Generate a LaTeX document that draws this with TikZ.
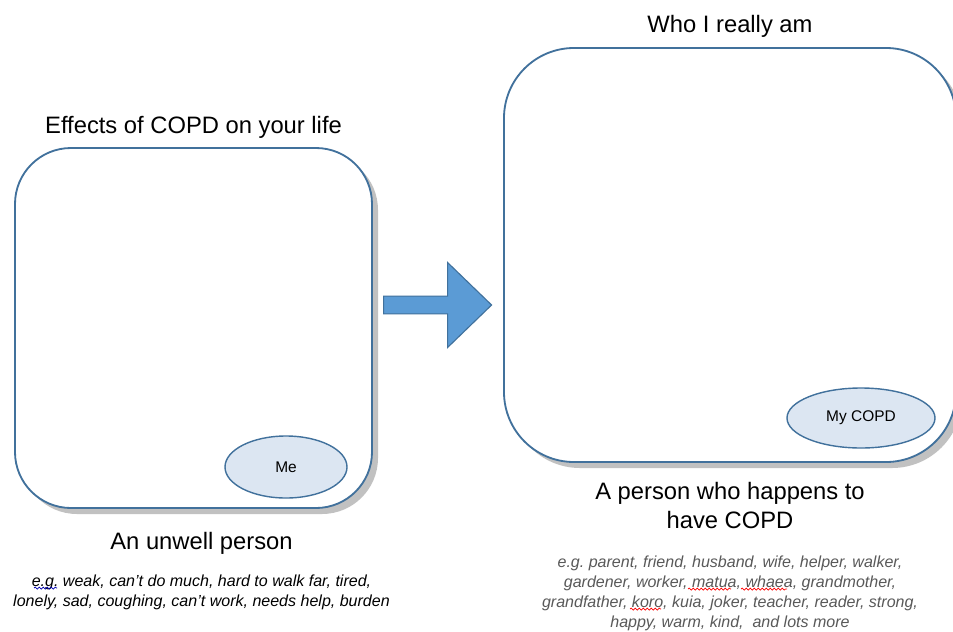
\documentclass[tikz,border=0pt]{standalone}
\usepackage{fontspec}
\setmainfont{Liberation Sans}
\usetikzlibrary{positioning,shapes.geometric,shapes.arrows,shadows,decorations.pathmorphing}

\definecolor{boxline}{HTML}{41719C}
\definecolor{ovalfill}{HTML}{DCE6F2}
\definecolor{arrowfill}{HTML}{5B9BD5}
\definecolor{listgray}{HTML}{595959}

\begin{document}
\begin{tikzpicture}[
    x=0.25mm, y=-0.25mm,
    lifebox/.style={rectangle, draw=boxline, line width=1.3pt, fill=white, drop shadow={shadow xshift=1.5mm, shadow yshift=-1.5mm, opacity=0.4, fill=black!60}},
    selfoval/.style={ellipse, draw=boxline, line width=1pt, fill=ovalfill, inner sep=0pt, font=\fontsize{11}{13}\selectfont},
    heading/.style={font=\fontsize{16.9}{21}\selectfont, align=center},
    examples/.style={align=center, font=\fontsize{11.4}{14.2}\selectfont\itshape},
    bigarrow/.style={single arrow, draw=boxline, line width=0.8pt, fill=arrowfill, minimum height=27mm, minimum width=21.25mm, single arrow head extend=5mm, single arrow tip angle=88},
    squiggle/.style={decorate, decoration={snake, amplitude=0.25mm, segment length=1mm}, line width=0.5pt}
]
\fill[white] (0,0) rectangle (953,631);
\clip (0,0) rectangle (953,631);

% the two views of the person
\node[lifebox, rounded corners=14mm, minimum width=89.25mm, minimum height=90mm] (effects) at (193.5,328) {};
\node[lifebox, rounded corners=17.5mm, minimum width=113mm, minimum height=103.5mm] (really) at (730,255) {};

\node[selfoval, minimum width=30.5mm, minimum height=15.5mm] (me) at (286,467) {Me};
\node[selfoval, minimum width=37mm, minimum height=15mm] (mycopd) at (861,418) {My COPD};

\node[bigarrow] (shift) at (433,305) {};

% titles
\node[heading, above=0.8mm of effects] (effectstitle) {Effects of COPD on your life};
\node[heading, above=1.2mm of really] (reallytitle) {Who I really am};
\node[heading, below=4.5mm of effects, xshift=2mm] (unwell) {An unwell person};
\node[heading, below=3.5mm of really] (happens) {A person who happens to\\have COPD};

% examples
\node[examples, below=2.8mm of unwell] (unwellex) {e.g.\ weak, can’t do much, hard to walk far, tired,\\lonely, sad, coughing, can’t work, needs help, burden};
\node[examples, text=listgray, below=4.2mm of happens] (happensex) {e.g.\ parent, friend, husband, wife, helper, walker,\\gardener, worker, matua, whaea, grandmother,\\grandfather, koro, kuia, joker, teacher, reader, strong,\\happy, warm, kind,\ \ and lots more};

% spelling marks
\draw[squiggle, blue!70!black] (34,588) -- (57,588);
\draw[squiggle, red] (688,589) -- (731,589);
\draw[squiggle, red] (741,589) -- (787,589);
\draw[squiggle, red] (630,609) -- (661,609);
\end{tikzpicture}
\end{document}
